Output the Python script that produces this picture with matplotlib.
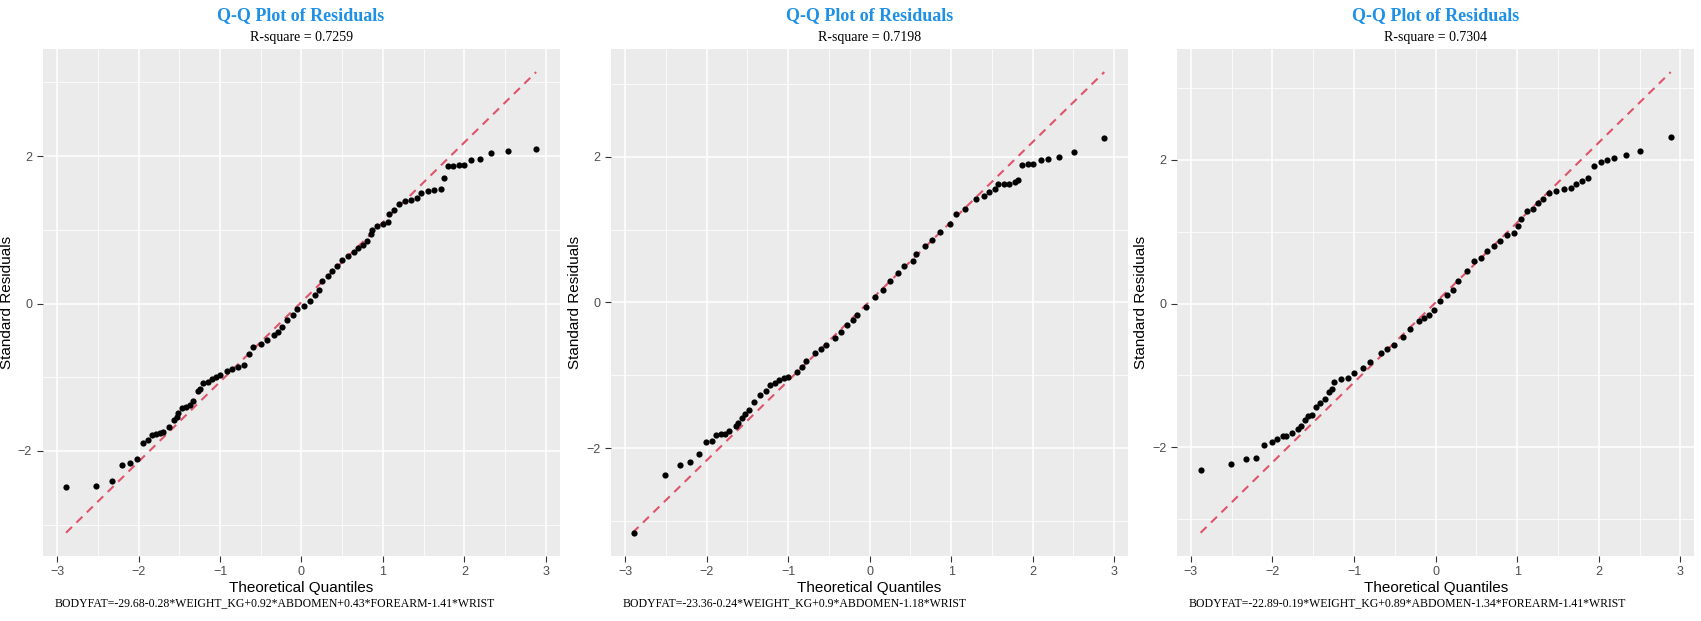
import numpy as np
from matplotlib import pyplot as plt

# residual points (theoretical quantile, standardized residual)
p1_x = [-2.89, -2.52, -2.33, -2.20, -2.10, -2.02, -1.94, -1.88, -1.83, -1.78, -1.74, -1.70,
        -1.62, -1.57, -1.53, -1.51, -1.47, -1.42, -1.37, -1.33, -1.27, -1.25, -1.21, -1.15,
        -1.10, -1.05, -1.00, -0.92, -0.85, -0.78, -0.71, -0.65, -0.59, -0.50, -0.42, -0.34,
        -0.29, -0.24, -0.18, -0.11, -0.05, 0.03, 0.10, 0.17, 0.21, 0.25, 0.32, 0.38, 0.44,
        0.50, 0.57, 0.65, 0.69, 0.75, 0.81, 0.85, 0.87, 0.93, 1.00, 1.06, 1.08, 1.14, 1.20,
        1.27, 1.35, 1.42, 1.47, 1.55, 1.63, 1.71, 1.75, 1.80, 1.86, 1.93, 1.99, 2.08, 2.19,
        2.33, 2.53, 2.88]
p1_y = [-2.49, -2.48, -2.41, -2.19, -2.16, -2.11, -1.89, -1.85, -1.78, -1.77, -1.76, -1.74,
        -1.68, -1.58, -1.54, -1.48, -1.42, -1.41, -1.38, -1.32, -1.19, -1.16, -1.08, -1.06,
        -1.03, -1.00, -0.97, -0.92, -0.89, -0.86, -0.84, -0.68, -0.59, -0.55, -0.50, -0.43,
        -0.39, -0.32, -0.22, -0.15, -0.08, -0.03, 0.03, 0.11, 0.19, 0.30, 0.38, 0.44, 0.51,
        0.59, 0.64, 0.70, 0.76, 0.80, 0.85, 0.95, 1.00, 1.05, 1.08, 1.11, 1.22, 1.27, 1.35,
        1.39, 1.40, 1.43, 1.50, 1.52, 1.54, 1.56, 1.70, 1.86, 1.87, 1.88, 1.88, 1.95, 1.96,
        2.04, 2.07, 2.10]
p2_x = [-2.89, -2.51, -2.33, -2.20, -2.10, -2.01, -1.94, -1.88, -1.82, -1.77, -1.73, -1.64,
        -1.61, -1.57, -1.53, -1.48, -1.42, -1.35, -1.27, -1.22, -1.16, -1.11, -1.05, -1.00,
        -0.89, -0.83, -0.78, -0.67, -0.60, -0.54, -0.43, -0.35, -0.28, -0.21, -0.15, -0.04,
        0.07, 0.16, 0.25, 0.35, 0.42, 0.53, 0.57, 0.68, 0.77, 0.86, 0.99, 1.06, 1.17, 1.30,
        1.41, 1.47, 1.54, 1.58, 1.65, 1.71, 1.78, 1.82, 1.87, 1.94, 2.01, 2.10, 2.19, 2.33,
        2.51, 2.88]
p2_y = [-3.16, -2.37, -2.23, -2.19, -2.08, -1.92, -1.90, -1.82, -1.81, -1.80, -1.76, -1.70,
        -1.65, -1.59, -1.53, -1.47, -1.37, -1.27, -1.22, -1.13, -1.10, -1.07, -1.04, -1.02,
        -0.95, -0.88, -0.80, -0.70, -0.64, -0.58, -0.49, -0.40, -0.31, -0.24, -0.17, -0.06,
        0.08, 0.17, 0.30, 0.40, 0.50, 0.57, 0.66, 0.77, 0.86, 0.96, 1.07, 1.21, 1.28, 1.42,
        1.46, 1.51, 1.55, 1.62, 1.62, 1.62, 1.65, 1.68, 1.89, 1.90, 1.90, 1.96, 1.97, 2.00,
        2.07, 2.25]
p3_x = [-2.88, -2.51, -2.32, -2.20, -2.10, -2.01, -1.94, -1.87, -1.83, -1.76, -1.69, -1.65,
        -1.60, -1.56, -1.51, -1.47, -1.42, -1.36, -1.31, -1.27, -1.24, -1.16, -1.07, -1.00,
        -0.89, -0.80, -0.67, -0.59, -0.51, -0.40, -0.31, -0.20, -0.14, -0.08, -0.02, 0.05,
        0.14, 0.21, 0.27, 0.38, 0.47, 0.56, 0.63, 0.72, 0.79, 0.88, 0.96, 1.01, 1.05, 1.12,
        1.19, 1.25, 1.32, 1.39, 1.48, 1.57, 1.66, 1.72, 1.79, 1.87, 1.94, 2.02, 2.10, 2.19,
        2.33, 2.51, 2.88]
p3_y = [-2.32, -2.24, -2.17, -2.15, -1.97, -1.93, -1.88, -1.85, -1.84, -1.80, -1.74, -1.71,
        -1.62, -1.57, -1.55, -1.44, -1.38, -1.33, -1.23, -1.19, -1.09, -1.05, -1.04, -0.97,
        -0.90, -0.81, -0.69, -0.63, -0.58, -0.46, -0.35, -0.25, -0.20, -0.16, -0.09, 0.03,
        0.12, 0.19, 0.31, 0.45, 0.59, 0.63, 0.73, 0.80, 0.87, 0.96, 0.98, 1.08, 1.17, 1.29,
        1.31, 1.40, 1.45, 1.54, 1.57, 1.59, 1.61, 1.66, 1.71, 1.75, 1.92, 1.97, 2.00, 2.03,
        2.06, 2.12, 2.31]

# reference line end points
lines = [((-2.89, 2.88), (-3.11, 3.14)),
         ((-2.91, 2.88), (-3.16, 3.16)),
         ((-2.88, 2.88), (-3.19, 3.22))]

subtitles = ['R-square = 0.7259', 'R-square = 0.7198', 'R-square = 0.7304']
formulas = ['BODYFAT=-29.68-0.28*WEIGHT_KG+0.92*ABDOMEN+0.43*FOREARM-1.41*WRIST',
            'BODYFAT=-23.36-0.24*WEIGHT_KG+0.9*ABDOMEN-1.18*WRIST',
            'BODYFAT=-22.89-0.19*WEIGHT_KG+0.89*ABDOMEN-1.34*FOREARM-1.41*WRIST']
points = [(p1_x, p1_y), (p2_x, p2_y), (p3_x, p3_y)]

fig = plt.figure(figsize=(17.01, 6.21), dpi=100)
lefts = [0.025, 0.359, 0.692]
W, B, H = 0.304, 0.105, 0.816
sans = 'Liberation Sans'
serif = 'Liberation Serif'

for i in range(3):
    ax = fig.add_axes([lefts[i], B, W, H])
    ax.set_facecolor('#EBEBEB')
    xs, ys = points[i]
    (lx, ly) = lines[i]
    xmin, xmax = min(xs), max(xs)
    ymin, ymax = min(min(ys), min(ly)), max(max(ys), max(ly))
    dx, dy = (xmax - xmin) * 0.05, (ymax - ymin) * 0.05
    ax.set_xlim(xmin - dx, xmax + dx)
    ax.set_ylim(ymin - dy, ymax + dy)
    ax.set_xticks([-3, -2, -1, 0, 1, 2, 3])
    ax.set_yticks([-2, 0, 2])
    ax.set_xticks(np.arange(-2.5, 3, 1), minor=True)
    ax.set_yticks([-3, -1, 1, 3], minor=True)
    ax.grid(which='major', color='white', lw=1.1)
    ax.grid(which='minor', color='white', lw=0.55)
    ax.set_axisbelow(True)
    for s in ax.spines.values():
        s.set_visible(False)
    ax.tick_params(which='major', length=4, width=0.8, color='#333333', labelcolor='#4D4D4D',
                   labelsize=9)
    ax.tick_params(which='minor', length=0)
    for lab in ax.get_xticklabels() + ax.get_yticklabels():
        lab.set_family(sans)

    ax.plot(lx, ly, ls=(0, (4, 3)), color='#DF536B', lw=1.5, zorder=2)
    ax.scatter(xs, ys, s=20, color='black', zorder=3, linewidths=0)

    ax.set_xlabel('Theoretical Quantiles', family=sans, fontsize=11, labelpad=2)
    ax.set_ylabel('Standard Residuals', family=sans, fontsize=11, labelpad=3)
    cx = lefts[i] + W / 2
    fig.text(cx, 0.975, 'Q-Q Plot of Residuals', ha='center', va='center', family=serif,
             fontweight='bold', fontsize=13, color='#1E90E6')
    fig.text(cx, 0.94, subtitles[i], ha='center', va='center', family=serif, fontsize=10)
    fig.text(lefts[i] + 0.007, 0.028, formulas[i], ha='left', va='center', family=serif,
             fontsize=8.5)

plt.savefig('out.png', dpi=100)
